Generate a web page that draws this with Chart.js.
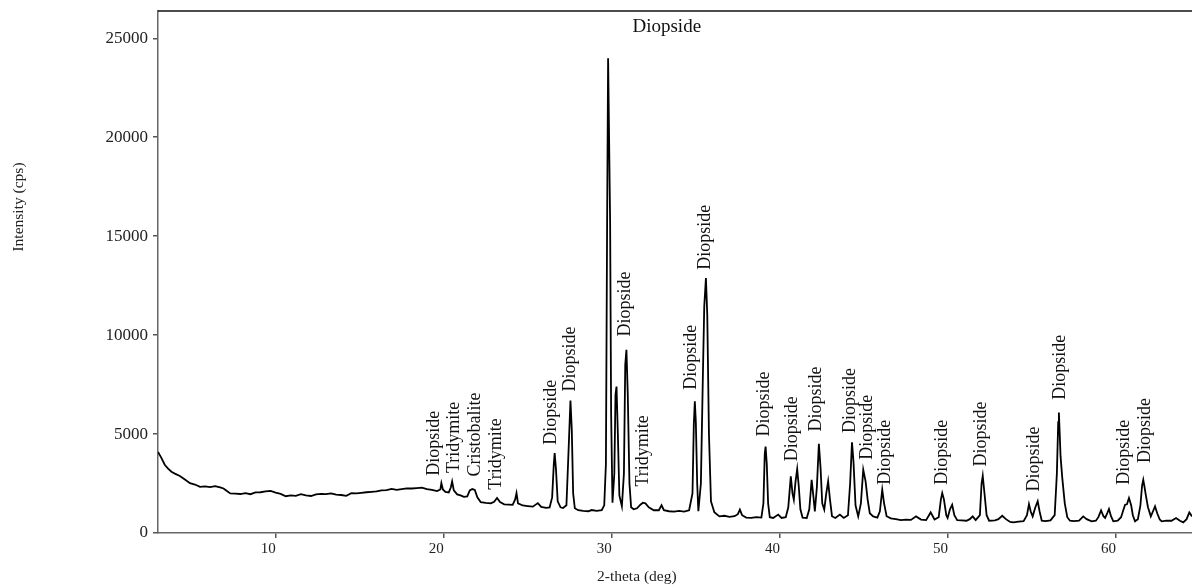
<!DOCTYPE html>
<html>
<head>
<meta charset="utf-8">
<script src="https://cdn.jsdelivr.net/npm/chart.js@4"></script>
<style>
  html, body { margin: 0; padding: 0; background: #fff; }
  #xrd { display: block; }
</style>
</head>
<body>
<canvas id="xrd" width="1192" height="586"></canvas>
<script>
const twoTheta = [
  3.0, 3.2, 3.4, 3.6, 3.8, 4.0, 4.3, 4.6, 4.9, 5.2, 5.5, 5.8, 6.1, 6.4, 6.7, 6.9, 7.1, 7.3, 7.6, 7.9,
  8.2, 8.5, 8.8, 9.1, 9.4, 9.7, 10.0, 10.3, 10.6, 10.9, 11.2, 11.5, 11.8, 12.1, 12.4, 12.7, 13.0, 13.3, 13.6, 13.9,
  14.2, 14.5, 14.8, 15.1, 15.4, 15.7, 16.0, 16.3, 16.6, 16.9, 17.2, 17.5, 17.8, 18.1, 18.4, 18.7, 19.0, 19.3, 19.6, 19.8,
  19.86, 19.95, 20.1, 20.3, 20.42, 20.5, 20.6, 20.8, 21.0, 21.2, 21.4, 21.55, 21.7, 21.85, 22.0, 22.2, 22.5, 22.8, 23.0, 23.17,
  23.35, 23.6, 23.9, 24.1, 24.25, 24.33, 24.42, 24.7, 25.0, 25.3, 25.6, 25.8, 26.1, 26.3, 26.45, 26.55, 26.6, 26.68, 26.78, 26.95,
  27.1, 27.3, 27.42, 27.54, 27.62, 27.7, 27.8, 28.0, 28.3, 28.6, 28.8, 29.1, 29.4, 29.55, 29.65, 29.72, 29.78, 29.82, 29.9, 29.96,
  30.04, 30.15, 30.22, 30.28, 30.36, 30.45, 30.6, 30.72, 30.8, 30.87, 30.95, 31.05, 31.15, 31.3, 31.5, 31.7, 31.85, 32.0, 32.2, 32.5,
  32.8, 32.96, 33.1, 33.4, 33.7, 34.0, 34.3, 34.6, 34.8, 34.88, 34.94, 35.0, 35.08, 35.15, 35.3, 35.42, 35.5, 35.6, 35.68, 35.78,
  35.9, 36.1, 36.4, 36.7, 37.0, 37.3, 37.5, 37.62, 37.75, 38.0, 38.3, 38.6, 38.9, 39.02, 39.1, 39.15, 39.22, 39.3, 39.4, 39.6,
  39.9, 40.1, 40.35, 40.5, 40.65, 40.75, 40.83, 40.93, 41.03, 41.12, 41.22, 41.35, 41.6, 41.75, 41.89, 42.0, 42.08, 42.2, 42.32, 42.42,
  42.52, 42.64, 42.76, 42.87, 42.98, 43.1, 43.3, 43.57, 43.8, 44.05, 44.18, 44.29, 44.38, 44.5, 44.66, 44.82, 44.96, 45.1, 45.22, 45.35,
  45.55, 45.8, 45.95, 46.09, 46.2, 46.35, 46.6, 46.9, 47.2, 47.5, 47.8, 48.1, 48.4, 48.7, 48.97, 49.2, 49.45, 49.58, 49.66, 49.76,
  49.9, 49.98, 50.12, 50.25, 50.38, 50.55, 50.8, 51.1, 51.3, 51.47, 51.65, 51.9, 52.0, 52.07, 52.15, 52.3, 52.45, 52.8, 53.0, 53.23,
  53.45, 53.7, 53.9, 54.2, 54.5, 54.7, 54.82, 54.92, 55.04, 55.2, 55.34, 55.45, 55.58, 55.8, 56.1, 56.35, 56.48, 56.56, 56.6, 56.65,
  56.7, 56.8, 56.95, 57.1, 57.26, 57.5, 57.8, 58.05, 58.25, 58.55, 58.8, 58.95, 59.11, 59.25, 59.35, 59.48, 59.58, 59.7, 59.84, 60.1,
  60.3, 60.45, 60.54, 60.65, 60.77, 60.9, 61.0, 61.13, 61.3, 61.45, 61.55, 61.62, 61.7, 61.77, 61.9, 62.07, 62.2, 62.32, 62.45, 62.6,
  62.72, 63.0, 63.3, 63.57, 63.8, 64.0, 64.2, 64.36, 64.52
];

const intensity = [
  4090, 3800, 3450, 3250, 3100, 3000, 2880, 2700, 2520, 2450, 2330, 2360, 2320, 2370, 2300, 2250, 2120, 2000, 1990, 1970,
  2010, 1960, 2050, 2060, 2100, 2130, 2040, 1980, 1860, 1900, 1880, 1960, 1900, 1870, 1950, 1980, 1960, 2000, 1940, 1920,
  1880, 2010, 2000, 2030, 2060, 2080, 2100, 2150, 2170, 2230, 2180, 2220, 2260, 2250, 2270, 2290, 2220, 2180, 2120, 2200,
  2520, 2200, 2080, 2050, 2300, 2600, 2150, 1950, 1900, 1830, 1850, 2150, 2220, 2180, 1800, 1560, 1520, 1500, 1580, 1770,
  1560, 1450, 1430, 1420, 1700, 2020, 1500, 1390, 1360, 1330, 1510, 1320, 1270, 1290, 1800, 3500, 4040, 3200, 1600, 1300,
  1260, 1400, 4000, 6700, 5200, 2000, 1250, 1150, 1120, 1100, 1160, 1120, 1150, 1400, 3500, 15500, 23990, 23990, 15700, 6000,
  1530, 3000, 7000, 7400, 5000, 1900, 1350, 3000, 8500, 9260, 7000, 2500, 1300, 1200, 1250, 1430, 1530, 1500, 1300, 1150,
  1150, 1400, 1150, 1100, 1080, 1120, 1080, 1150, 2000, 5500, 6650, 5600, 2500, 1100, 2500, 8000, 11440, 12880, 11000, 5000,
  1600, 1050, 840, 870, 820, 850, 950, 1180, 900, 780, 760, 800, 780, 1500, 4000, 4370, 3500, 1500, 800, 760,
  930, 760, 800, 1300, 2860, 2000, 1680, 2600, 3230, 2400, 1200, 780, 760, 1200, 2690, 1800, 1090, 2300, 4510, 3300,
  1500, 1180, 2000, 2610, 1700, 850, 760, 930, 760, 900, 2500, 4580, 3600, 1400, 840, 1500, 3200, 2610, 1700, 1000,
  840, 780, 1100, 2190, 1500, 850, 740, 700, 650, 680, 660, 840, 680, 650, 1040, 680, 800, 1700, 2020, 1700,
  900, 760, 1200, 1430, 900, 650, 640, 620, 700, 840, 650, 900, 2500, 2890, 2200, 900, 620, 640, 700, 870,
  700, 560, 540, 580, 600, 900, 1460, 1100, 840, 1300, 1600, 1100, 620, 600, 640, 900, 3000, 5600, 6090, 5000,
  3870, 2800, 1500, 800, 620, 600, 620, 840, 700, 590, 620, 800, 1140, 850, 760, 1000, 1210, 850, 590, 620,
  800, 1200, 1430, 1450, 1770, 1400, 900, 590, 700, 1400, 2400, 2690, 2300, 1930, 1300, 840, 1100, 1345, 1000, 680,
  590, 620, 620, 760, 620, 540, 700, 1040, 840
];

const xTicks = [10, 20, 30, 40, 50, 60];
const yTicks = [0, 5000, 10000, 15000, 20000, 25000];

// rotated phase labels: name, x (deg), y where the text starts (cps)
const phaseNames = [
  'Diopside', 'Tridymite', 'Cristobalite', 'Tridymite', 'Diopside', 'Diopside', 'Diopside', 'Tridymite',
  'Diopside', 'Diopside', 'Diopside', 'Diopside', 'Diopside', 'Diopside', 'Diopside', 'Diopside',
  'Diopside', 'Diopside', 'Diopside', 'Diopside', 'Diopside', 'Diopside'
];
const phaseX = [
  19.46, 20.65, 21.85, 23.14, 26.37, 27.5, 30.83, 31.86,
  34.74, 35.54, 39.07, 40.75, 42.18, 44.17, 45.2, 46.25,
  49.68, 52.0, 55.14, 56.67, 60.5, 61.73
];
const phaseY = [
  2890, 3030, 2860, 2190, 4460, 7150, 9930, 2350,
  7240, 13300, 4880, 3620, 5130, 5050, 3700, 2440,
  2440, 3360, 2100, 6730, 2440, 3540
];

// horizontal label over the strongest peak
const topLabel = { text: 'Diopside', x: 33.27, y: 25570 };

const serif = '"Liberation Serif", "DejaVu Serif", serif';

const annotatePlugin = {
  id: 'annotate',
  afterDatasetsDraw(chart) {
    const ctx = chart.ctx;
    const xs = chart.scales.x;
    const ys = chart.scales.y;
    const area = chart.chartArea;

    ctx.save();
    // top frame line
    ctx.strokeStyle = '#111';
    ctx.lineWidth = 1.5;
    ctx.beginPath();
    ctx.moveTo(area.left, area.top);
    ctx.lineTo(area.right, area.top);
    ctx.stroke();

    ctx.fillStyle = '#111';
    ctx.font = '18px ' + serif;
    ctx.textAlign = 'left';
    ctx.textBaseline = 'middle';
    phaseNames.forEach((name, i) => {
      ctx.save();
      ctx.translate(xs.getPixelForValue(phaseX[i]), ys.getPixelForValue(phaseY[i]));
      ctx.rotate(-Math.PI / 2);
      ctx.fillText(name, 0, 0);
      ctx.restore();
    });

    ctx.font = '19px ' + serif;
    ctx.textAlign = 'center';
    ctx.fillText(topLabel.text, xs.getPixelForValue(topLabel.x), ys.getPixelForValue(topLabel.y));

    // axis titles
    ctx.fillStyle = '#222';
    ctx.font = '15.5px ' + serif;
    ctx.textAlign = 'left';
    ctx.textBaseline = 'middle';
    ctx.fillText('2-theta (deg)', 597, 577);

    ctx.save();
    ctx.translate(19, 207);
    ctx.rotate(-Math.PI / 2);
    ctx.textAlign = 'center';
    ctx.fillText('Intensity (cps)', 0, 0);
    ctx.restore();

    ctx.restore();
  }
};

const points = twoTheta.map((t, i) => ({ x: t, y: intensity[i] }));

new Chart(document.getElementById('xrd'), {
  type: 'line',
  data: {
    datasets: [{
      data: points,
      borderColor: '#000',
      borderWidth: 1.8,
      pointRadius: 0,
      tension: 0,
      fill: false
    }]
  },
  options: {
    responsive: false,
    animation: false,
    layout: { padding: { top: 11, right: 0, left: 0, bottom: 0 } },
    plugins: {
      legend: { display: false },
      tooltip: { enabled: false }
    },
    scales: {
      x: {
        type: 'linear',
        min: 3,
        max: 64.52,
        afterBuildTicks: scale => { scale.ticks = xTicks.map(v => ({ value: v })); },
        afterFit: scale => {
          scale.height = 53;
          scale.paddingLeft = 0;
          scale.paddingRight = 0;
        },
        border: { color: '#666', width: 1.5 },
        grid: { drawOnChartArea: false, drawTicks: true, tickLength: 5, color: '#555', lineWidth: 1.5 },
        ticks: {
          align: 'end',
          padding: 2,
          color: '#222',
          font: { family: serif, size: 15 },
          maxRotation: 0,
          callback: v => String(v)
        }
      },
      y: {
        min: 0,
        max: 26380,
        afterBuildTicks: scale => { scale.ticks = yTicks.map(v => ({ value: v })); },
        afterFit: scale => {
          scale.width = 158;
          scale.paddingTop = 0;
          scale.paddingBottom = 0;
        },
        border: { color: '#666', width: 1.5 },
        grid: { drawOnChartArea: false, drawTicks: true, tickLength: 5, color: '#555', lineWidth: 1.5 },
        ticks: {
          padding: 5,
          color: '#222',
          font: { family: serif, size: 17 },
          callback: v => String(v)
        }
      }
    }
  },
  plugins: [annotatePlugin]
});
</script>
</body>
</html>
